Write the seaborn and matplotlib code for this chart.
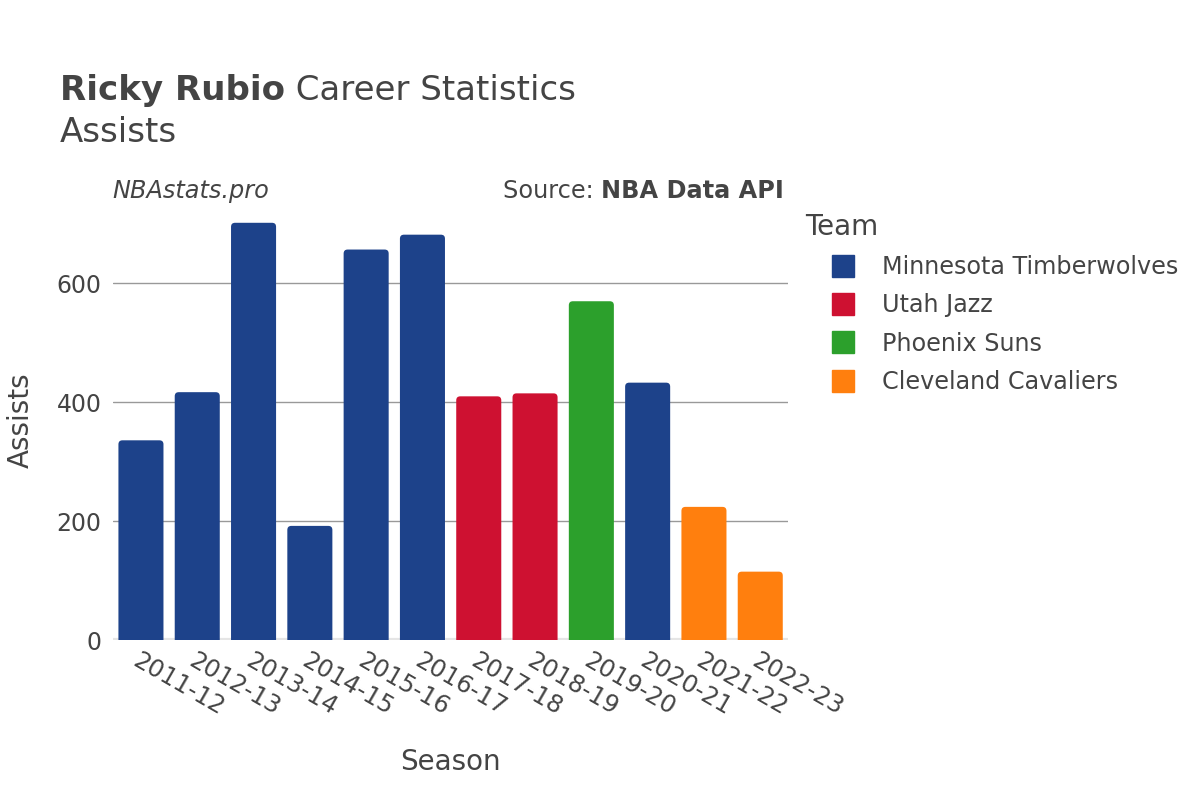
import pandas as pd
import matplotlib.pyplot as plt
import seaborn as sns
from matplotlib.lines import Line2D
from matplotlib.patches import FancyBboxPatch

seasons = ["2011-12", "2012-13", "2013-14", "2014-15", "2015-16", "2016-17",
           "2017-18", "2018-19", "2019-20", "2020-21", "2021-22", "2022-23"]
assists = [336, 417, 702, 192, 657, 682, 410, 415, 570, 433, 224, 115]
teams = ["Minnesota Timberwolves"] * 6 + ["Utah Jazz"] * 2 + ["Phoenix Suns"] + \
        ["Minnesota Timberwolves"] + ["Cleveland Cavaliers"] * 2

team_order = ["Minnesota Timberwolves", "Utah Jazz", "Phoenix Suns", "Cleveland Cavaliers"]
team_colors = ["#1d428a", "#ce1131", "#2ca02c", "#ff7f0e"]
palette = dict(zip(team_order, team_colors))

df = pd.DataFrame({"Season": seasons, "Assists": assists, "Team": teams})

sns.set_style("white")
plt.rcParams["font.family"] = ["DejaVu Sans"]
text_col = "#444444"

fig = plt.figure(figsize=(12, 8), dpi=100)
ax = fig.add_axes([0.094, 0.2, 0.563, 0.549])

sns.barplot(data=df, x="Season", y="Assists", hue="Team", hue_order=team_order,
            palette=palette, dodge=False, width=0.8, saturation=1, ax=ax,
            legend=False, zorder=3, linewidth=0)

ymax = 739
ax.set_ylim(0, ymax)
ax.set_xlim(-0.5, len(seasons) - 0.5)

# swap plain bars for slightly rounded ones (bottom corners hidden below zero)
ax_h_px = 0.549 * 800
ax_w_px = 0.563 * 1200
r_px = 4
rx = r_px * len(seasons) / ax_w_px
ry = r_px * ymax / ax_h_px
for p in list(ax.patches):
    x0, w, h = p.get_x(), p.get_width(), p.get_height()
    fc = p.get_facecolor()
    p.set_visible(False)
    ax.add_patch(FancyBboxPatch((x0, -ry), w, h + ry,
                                boxstyle=f"round,pad=0,rounding_size={rx}",
                                mutation_aspect=ry / rx, facecolor=fc,
                                edgecolor="none", zorder=3))

ax.set_yticks([0, 200, 400, 600])
ax.grid(axis="y", color="#999999", linewidth=1, zorder=0)
for s in ax.spines.values():
    s.set_visible(False)
ax.axhline(0, color="#e5e5e5", linewidth=3, zorder=2)

ax.tick_params(axis="y", labelsize=17, labelcolor=text_col, length=0, pad=8)
ax.tick_params(axis="x", labelsize=17.5, labelcolor=text_col, length=0, pad=6)
for lbl in ax.get_xticklabels():
    lbl.set_rotation(-30)
    lbl.set_ha("left")
    lbl.set_rotation_mode("anchor")

ax.set_xlabel("Season", fontsize=20, color=text_col, labelpad=20)
ax.set_ylabel("Assists", fontsize=20, color=text_col, labelpad=16)

# title: bold name followed by regular text
t1 = fig.text(0.05, 0.875, "Ricky Rubio", fontsize=24.5, fontweight="bold",
              color=text_col, va="baseline")
fig.canvas.draw()
bb = t1.get_window_extent()
fig.text(bb.x1 / 1200, 0.875, " Career Statistics", fontsize=24.5, color=text_col,
         va="baseline")
fig.text(0.05, 0.823, "Assists", fontsize=24.5, color=text_col, va="baseline")

fig.text(0.094, 0.752, "NBAstats.pro", fontsize=17.3, style="italic", color=text_col,
         va="baseline")
t2 = fig.text(0.6535, 0.752, "NBA Data API", fontsize=17.3, fontweight="bold",
              color=text_col, va="baseline", ha="right")
fig.canvas.draw()
bb2 = t2.get_window_extent()
fig.text(bb2.x0 / 1200, 0.752, "Source: ", fontsize=17.3, color=text_col,
         va="baseline", ha="right")

# legend
fig.text(0.671, 0.716, "Team", fontsize=20, color=text_col, va="center")
handles = [Line2D([0], [0], marker="s", linestyle="", markersize=16.5,
                  markerfacecolor=c, markeredgecolor=c) for c in team_colors]
leg = fig.legend(handles, team_order, loc="upper left", bbox_to_anchor=(0.665, 0.708),
                 frameon=False, fontsize=17.2, labelcolor=text_col,
                 handletextpad=0.6, labelspacing=0.6)

fig.savefig("out.png", dpi=100)
